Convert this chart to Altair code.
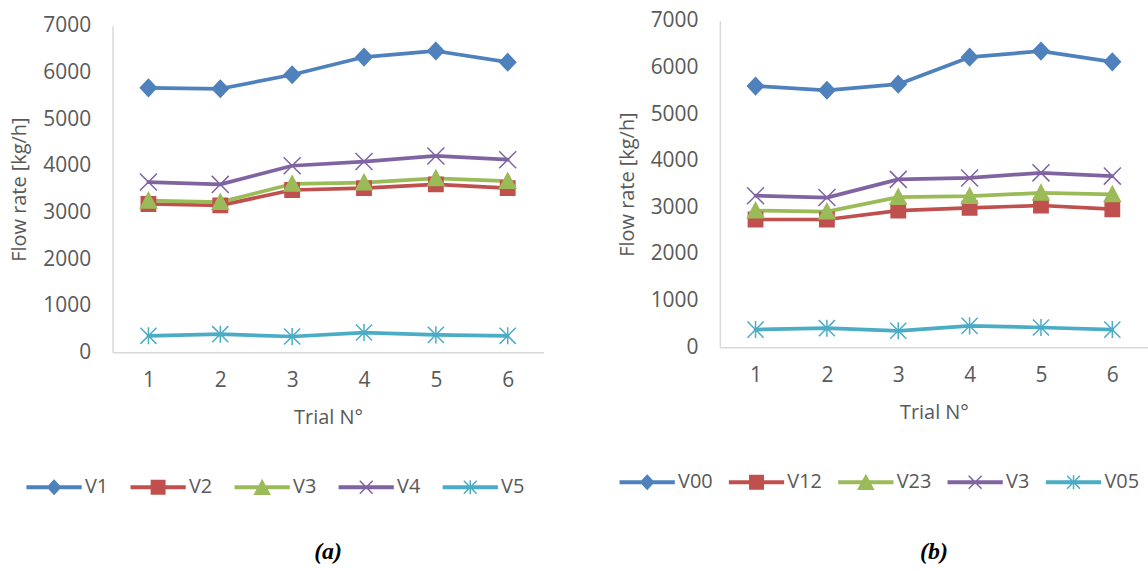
import json
import altair as alt
import pandas as pd

# ---------------- data ----------------
trials = [1, 2, 3, 4, 5, 6]

series_a = ["V1", "V2", "V3", "V4", "V5"]
a_v1 = [5670, 5650, 5950, 6330, 6460, 6220]
a_v2 = [3180, 3150, 3480, 3520, 3600, 3520]
a_v3 = [3250, 3220, 3610, 3640, 3730, 3670]
a_v4 = [3650, 3600, 4000, 4090, 4210, 4130]
a_v5 = [355, 390, 340, 425, 375, 355]
values_a = [a_v1, a_v2, a_v3, a_v4, a_v5]

series_b = ["V00", "V12", "V23", "V3", "V05"]
b_v00 = [5600, 5510, 5640, 6220, 6350, 6120]
b_v12 = [2740, 2740, 2930, 2990, 3040, 2960]
b_v23 = [2930, 2910, 3220, 3240, 3310, 3280]
b_v3 = [3250, 3210, 3600, 3630, 3740, 3670]
b_v05 = [380, 410, 355, 460, 425, 380]
values_b = [b_v00, b_v12, b_v23, b_v3, b_v05]

y_ticks = [0, 1000, 2000, 3000, 4000, 5000, 6000, 7000]

# ---------------- styles ----------------
COLORS = ["#4F81BD", "#C0504D", "#9BBB59", "#8064A2", "#4BACC6"]
MARKERS = [
    "M0,-0.95L0.9,0L0,0.95L-0.9,0Z",
    "M-0.8,-0.8L0.8,-0.8L0.8,0.8L-0.8,0.8Z",
    "M0,-0.9L0.9,0.8L-0.9,0.8Z",
    "M-0.95,-0.95L0.95,0.95M-0.95,0.95L0.95,-0.95",
    "M-0.9,-0.9L0.9,0.9M-0.9,0.9L0.9,-0.9M0,-0.95L0,0.95",
]
LINE = "M-1,-0.045L1,-0.045L1,0.045L-1,0.045Z"
LEGEND_MARKERS = [
    LINE + "M0,-0.26L0.24,0L0,0.26L-0.24,0Z",
    LINE + "M-0.25,-0.25L0.25,-0.25L0.25,0.25L-0.25,0.25Z",
    LINE + "M0,-0.26L0.28,0.26L-0.28,0.26Z",
    LINE + "M-0.24,-0.24L0.24,0.24M-0.24,0.24L0.24,-0.24",
    LINE + "M-0.24,-0.24L0.24,0.24M-0.24,0.24L0.24,-0.24M0,-0.26L0,0.26",
]
FONT = "Open Sans"
GREY = "#595959"


def long_table(series, values):
    rows = []
    for s, vals in zip(series, values):
        for t, v in zip(trials, vals):
            rows.append({"series": s, "marker": s, "trial": t, "flow": v})
    return pd.DataFrame(rows)


def panel(series, values, width, label, legend_x, col_pad, title_offset, extra_bottom=None):
    df = long_table(series, values)
    dom = json.dumps(series)

    def pick(arr):
        return alt.ExprRef(expr="%s[indexof(%s, datum.value)]" % (json.dumps(arr), dom))

    legend = alt.Legend(
        orient="none", legendX=legend_x, legendY=435, direction="horizontal",
        title=None, symbolSize=2916, labelOffset=3, columnPadding=col_pad,
        labelFont=FONT, labelFontSize=20, labelColor=GREY, symbolOpacity=1,
        symbolType=pick(LEGEND_MARKERS), symbolFillColor=pick(COLORS),
        symbolStrokeColor=pick(COLORS), symbolStrokeWidth=1.5,
    )
    color = alt.Color("series:N", scale=alt.Scale(domain=series, range=COLORS), legend=legend)
    x = alt.X("trial:O", scale=alt.Scale(type="point", padding=0.5),
              axis=alt.Axis(title="Trial N°", labelAngle=0, titleY=65.5, titleBaseline="middle",
                            labelBaseline="middle", labelPadding=28))
    y = alt.Y("flow:Q", scale=alt.Scale(domain=[0, 7000], nice=False),
              axis=alt.Axis(title="Flow rate [kg/h]", values=y_ticks, format="d", labelPadding=22,
                            titleX=-93, titleY=164, titleAngle=270, titleBaseline="middle",
                            titleAlign="center"))
    base = alt.Chart(df).encode(x=x, y=y, color=color)
    lines = base.mark_line(strokeWidth=3.75, strokeJoin="round", strokeCap="round")
    points = base.mark_point(filled=True, size=324, opacity=1, strokeWidth=1.5).encode(
        shape=alt.Shape("marker:N", sort=series, scale=alt.Scale(range=MARKERS), legend=None),
        stroke=alt.Stroke("marker:N", sort=series, scale=alt.Scale(range=COLORS), legend=None),
    )
    title_kw = dict(orient="bottom", anchor="middle", frame="group",
                    font="Liberation Serif", fontSize=24, fontStyle="italic",
                    fontWeight="bold", color="black", offset=title_offset)
    if extra_bottom is not None:
        title_kw.update(subtitle=" ", subtitleFontSize=4, subtitlePadding=extra_bottom)
    return alt.layer(lines, points).properties(
        width=width, height=328, title=alt.TitleParams(label, **title_kw),
    )


left_panel = panel(series_a, values_a, 433, "(a)", -86.7, 19.5, 42.7)
right_panel = panel(series_b, values_b, 430, "(b)", -101, 13.8, 47.3, extra_bottom=1.5)

chart = (
    alt.hconcat(left_panel, right_panel, spacing=74, center=True)
    .resolve_scale(color="independent", shape="independent", stroke="independent")
    .resolve_legend(color="independent")
    .properties(padding={"left": 10, "top": 8.5, "right": 0, "bottom": 0}, background="white")
    .configure_view(stroke=None)
    .configure_axis(
        domainColor="#D9D9D9", domainWidth=1.5, ticks=False, tickSize=0, grid=False,
        labelColor=GREY, titleColor=GREY, labelFont=FONT, titleFont=FONT,
        labelFontSize=21, titleFontSize=20, titleFontWeight="normal",
    )
)

chart.save("out.html", embed_options={"renderer": "svg", "actions": False})
